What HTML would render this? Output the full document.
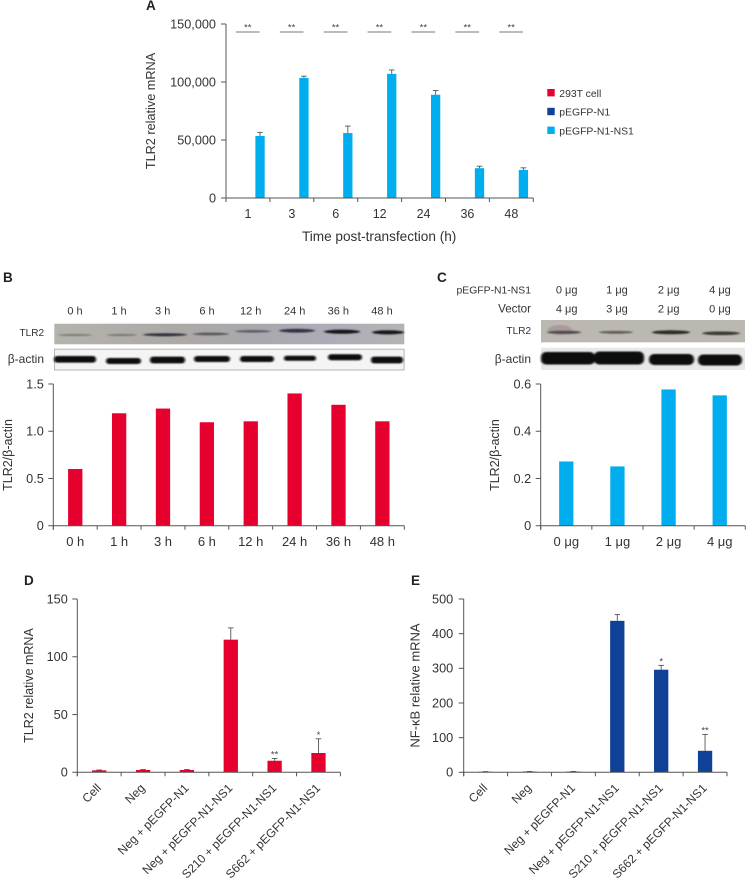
<!DOCTYPE html>
<html lang="en">
<head>
<meta charset="utf-8">
<title>TLR2 and NF-κB expression figure</title>
<style>
html,body{margin:0;padding:0;background:#fff;}
body{width:747px;height:882px;overflow:hidden;}
svg{display:block;font-family:"Liberation Sans",sans-serif;fill:#333;}
.panel-letter{font-weight:bold;font-size:13.5px;fill:#222;}
.blot-label{font-size:11px;fill:#333;}
.legend-text{font-size:10.4px;fill:#333;}
</style>
</head>
<body>
<svg id="fig" xmlns="http://www.w3.org/2000/svg" width="747" height="882" viewBox="0 0 747 882">
<defs>
<filter id="b1" x="-30%" y="-200%" width="160%" height="500%"><feGaussianBlur stdDeviation="1.1 .7"/></filter>
<filter id="b2" x="-30%" y="-100%" width="160%" height="300%"><feGaussianBlur stdDeviation="1 .7"/></filter>
<linearGradient id="bgB" x1="0" x2="1" y1="0" y2="0">
<stop offset="0" stop-color="#b5b3ad"/><stop offset=".35" stop-color="#aca9a6"/><stop offset=".6" stop-color="#aaa8ae"/><stop offset=".8" stop-color="#aeadb8"/><stop offset="1" stop-color="#b4b3b4"/>
</linearGradient>
</defs>

<text class="panel-letter" x="146" y="10">A</text>
<text class="panel-letter" x="3" y="282">B</text>
<text class="panel-letter" x="437" y="282">C</text>
<text class="panel-letter" x="24" y="585">D</text>
<text class="panel-letter" x="411" y="585">E</text>

<g>
<rect x="547.3" y="89" width="7.4" height="7.4" fill="#e6002e"/>
<text class="legend-text" x="559.3" y="96.8">293T cell</text>
<rect x="547.3" y="107.8" width="7.4" height="7.4" fill="#0f4196"/>
<text class="legend-text" x="559.3" y="115.6">pEGFP-N1</text>
<rect x="547.3" y="126.6" width="7.4" height="7.4" fill="#00aeef"/>
<text class="legend-text" x="559.3" y="134.4">pEGFP-N1-NS1</text>
</g>

<g>
<g class="blot-label" text-anchor="middle">
<text x="75" y="314.3">0 h</text><text x="119" y="314.3">1 h</text><text x="162.7" y="314.3">3 h</text><text x="207" y="314.3">6 h</text><text x="250.7" y="314.3">12 h</text><text x="294.7" y="314.3">24 h</text><text x="338.3" y="314.3">36 h</text><text x="382" y="314.3">48 h</text>
</g>
<text x="44" y="336" text-anchor="end" font-size="10">TLR2</text>
<text x="44" y="363" text-anchor="end" font-size="12">β-actin</text>
<rect x="54.3" y="323.7" width="350" height="20.6" fill="url(#bgB)"/>
<g filter="url(#b1)">
<ellipse cx="75" cy="335" rx="17" ry="1" fill="#7a7876"/>
<ellipse cx="122" cy="335" rx="15" ry="1" fill="#767472"/>
<ellipse cx="165" cy="334.7" rx="22" ry="1.5" fill="#2d2d3a"/>
<ellipse cx="211" cy="334" rx="18" ry="1.3" fill="#555"/>
<ellipse cx="253" cy="331.3" rx="18" ry="1.3" fill="#5c5c66"/>
<ellipse cx="297" cy="330.7" rx="18" ry="1.9" fill="#303048"/>
<ellipse cx="342" cy="331.7" rx="18" ry="2.1" fill="#121216"/>
<ellipse cx="388" cy="332.3" rx="16" ry="2.1" fill="#15151a"/>
</g>
<rect x="54.5" y="349.2" width="349.6" height="20.8" fill="#f4f4f4" stroke="#b5b5b5" stroke-width="1"/>
<g filter="url(#b2)" fill="#0a0a0a">
<rect x="54" y="356" width="42" height="6.6" rx="3"/>
<rect x="106" y="358" width="35" height="6" rx="3"/>
<rect x="150" y="356.6" width="35" height="6.8" rx="3"/>
<rect x="194" y="356" width="36" height="6" rx="3"/>
<rect x="240" y="356" width="34" height="6" rx="3"/>
<rect x="284" y="355.8" width="32" height="5" rx="2.5"/>
<rect x="328" y="354.2" width="34" height="6" rx="3"/>
<rect x="371" y="356.6" width="32" height="6.8" rx="3"/>
</g>
</g>

<g>
<text x="531" y="293.3" text-anchor="end" font-size="10.4">pEGFP-N1-NS1</text>
<text x="531" y="312.3" text-anchor="end" font-size="11.6">Vector</text>
<g class="blot-label" text-anchor="middle">
<text x="566.7" y="293.3">0 μg</text><text x="617" y="293.3">1 μg</text><text x="668.7" y="293.3">2 μg</text><text x="720" y="293.3">4 μg</text>
</g>
<g class="blot-label" text-anchor="middle">
<text x="566.7" y="312.3">4 μg</text><text x="617" y="312.3">3 μg</text><text x="668.7" y="312.3">2 μg</text><text x="720" y="312.3">0 μg</text>
</g>
<text x="531" y="334" text-anchor="end" font-size="10">TLR2</text>
<text x="531" y="363" text-anchor="end" font-size="12">β-actin</text>
<rect x="541" y="320" width="204" height="22.3" fill="#bbb8b1"/>
<g filter="url(#b1)">
<ellipse cx="560" cy="330" rx="12" ry="5" fill="#a89a9e"/>
<ellipse cx="564" cy="332.3" rx="17" ry="1.7" fill="#4f4a48"/>
<ellipse cx="616" cy="332.3" rx="17" ry="1.4" fill="#5f5c52"/>
<ellipse cx="671" cy="332.3" rx="19" ry="2" fill="#2e2c28"/>
<ellipse cx="721" cy="333.3" rx="19" ry="1.8" fill="#3a3835"/>
</g>
<rect x="541" y="347.7" width="204" height="22.3" fill="#e8e8e8"/>
<g filter="url(#b2)" fill="#080808">
<rect x="541" y="352" width="54" height="12.5" rx="5"/>
<rect x="594" y="351.5" width="50" height="13" rx="5"/>
<rect x="649" y="354" width="45" height="11" rx="5"/>
<rect x="698" y="354.5" width="44" height="11" rx="5"/>
</g>
</g>
</svg>
<script>
// Panel A data
const hoursA = ['1','3','6','12','24','36','48'];
const cellA = [0,0,0,0,0,0,0];
const vectorA = [0,0,0,0,0,0,0];
const ns1A = [53500,103500,56000,107000,89000,25700,24200];
const ns1ErrA = [3100,1500,6000,3400,3700,1700,1800];
const sigA = ['**','**','**','**','**','**','**'];
const yTicksA = [0,50000,100000,150000];
// Panel B data
const hoursB = ['0 h','1 h','3 h','6 h','12 h','24 h','36 h','48 h'];
const ratioB = [0.6,1.19,1.24,1.095,1.105,1.4,1.28,1.105];
const yTicksB = [0,0.5,1.0,1.5];
// Panel C data
const dosesC = ['0 μg','1 μg','2 μg','4 μg'];
const ratioC = [0.272,0.251,0.577,0.552];
const yTicksC = [0,0.2,0.4,0.6];
// Panels D and E data
const groupsDE = ['Cell','Neg','Neg + pEGFP-N1','Neg + pEGFP-N1-NS1','S210 + pEGFP-N1-NS1','S662 + pEGFP-N1-NS1'];
const tlr2D = [1.7,2,2,114.8,10,16.7];
const tlr2ErrD = [0.3,0.4,0.4,10.2,2,12.3];
const starsD = ['','','','','**','*'];
const yTicksD = [0,50,100,150];
const nfkbE = [1.5,2,2,437,296,62];
const nfkbErrE = [0.5,0.5,0.5,18,12.5,47];
const starsE = ['','','','','*','**'];
const yTicksE = [0,100,200,300,400,500];

const NS = 'http://www.w3.org/2000/svg';
const fig = document.getElementById('fig');
const RED = '#e6002e', BLUE = '#0f4196', CYAN = '#00aeef', AXIS = '#555', INK = '#333';

function mk(parent, tag, attrs, txt) {
  const e = document.createElementNS(NS, tag);
  for (const k in attrs) e.setAttribute(k, attrs[k]);
  if (txt !== undefined) e.textContent = txt;
  parent.appendChild(e);
  return e;
}

function drawPanel(p) {
  const g = mk(fig, 'g', {});
  
  
  const n = p.cats.length;
  const step = (p.x1 - p.x0) / n;
  const yS = v => p.y0 + (p.yT - p.y0) * v / p.yMax;
  const xS = (i, f) => p.x0 + (i + f) * step;

  // bars
  p.series.forEach(s => {
    s.values.forEach((v, i) => {
      const cx = xS(i, s.frac);
      const r = mk(g, 'rect', {x: cx - p.barW / 2, y: yS(v), width: p.barW, height: p.y0 - yS(v), fill: s.color});
      
      
      if (s.errs) {
        const top = yS(v + s.errs[i]);
        const stem = mk(g, 'line', {x1: cx, x2: cx, y1: yS(v), y2: top, stroke: '#555', 'stroke-width': 0.9});
        
        
        const cap = mk(g, 'line', {x1: cx - 2.8, x2: cx + 2.8, y1: top, y2: top, stroke: '#555', 'stroke-width': 0.9});
        
        
      }
      if (s.stars && s.stars[i]) {
        const st = mk(g, 'text', {x: cx, y: yS(v + s.errs[i]) - 1, 'text-anchor': 'middle', 'font-size': 9.5, fill: '#444'}, s.stars[i]);
        
        
      }
    });
  });

  // axes
  const ya = mk(g, 'line', {x1: p.x0, x2: p.x0, y1: p.yT, y2: p.y0 + 4, stroke: AXIS, 'stroke-width': 1});
  
  
  const xa = mk(g, 'line', {x1: p.x0, x2: p.x1, y1: p.y0, y2: p.y0, stroke: AXIS, 'stroke-width': 1});
  
  

  p.yTicks.forEach(t => {
    const y = yS(t);
    const tk = mk(g, 'line', {x1: p.x0 - 5, x2: p.x0, y1: y, y2: y, stroke: AXIS, 'stroke-width': 1});
    
    
    const lb = mk(g, 'text', {x: p.x0 - p.yLabelGap, y: y + 4.4, 'text-anchor': 'end', 'font-size': p.tickFont, fill: INK}, p.yFmt(t));
    
    
  });

  for (let i = 0; i <= n; i++) {
    const x = xS(i, 0);
    const tk = mk(g, 'line', {x1: x, x2: x, y1: p.y0, y2: p.y0 + 4, stroke: AXIS, 'stroke-width': 1});
    
    
  }

  p.cats.forEach((c, i) => {
    const x = xS(i, 0.5);
    let lb;
    if (p.rotate) {
      const ax = x + 2.5, ay = p.y0 + 16.5;
      lb = mk(g, 'text', {x: ax, y: ay, 'text-anchor': 'end', 'font-size': p.catFont, fill: INK, transform: 'rotate(-45 ' + ax + ' ' + ay + ')'}, c);
    } else {
      lb = mk(g, 'text', {x: x, y: p.catY, 'text-anchor': 'middle', 'font-size': p.catFont, fill: INK}, c);
    }
    
    
  });

  const yt = mk(g, 'text', {x: p.yTitleX, y: p.yTitleY, 'text-anchor': 'middle', 'font-size': p.titleFont, fill: INK, transform: 'rotate(-90 ' + p.yTitleX + ' ' + p.yTitleY + ')'}, p.yTitle);
  
  

  if (p.xTitle) {
    const xt = mk(g, 'text', {x: (p.x0 + p.x1) / 2 - 0.5, y: p.xTitleY, 'text-anchor': 'middle', 'font-size': 13.6, fill: INK}, p.xTitle);
    
    
  }

  if (p.sig) {
    p.sig.forEach((s, i) => {
      const a = xS(i, 0.225), b = xS(i, 0.765), y = p.sigY;
      const l = mk(g, 'line', {x1: a, x2: b, y1: y, y2: y, stroke: '#777', 'stroke-width': 1});
      
      
      const t = mk(g, 'text', {x: (a + b) / 2, y: y - 1.5, 'text-anchor': 'middle', 'font-size': 9.5, fill: '#444'}, s);
      
      
    });
  }
}

const comma = v => v.toLocaleString('en-US');
const oneDec = v => v === 0 ? '0' : v.toFixed(1);
const plain = v => String(v);

drawPanel({id:'panel-a', cats:hoursA, x0:226, x1:533.3, y0:198, yT:24, yMax:150000, barW:9.3,
  series:[
    {key:'293t', values:cellA, frac:0.225, color:RED},
    {key:'pegfp-n1', values:vectorA, frac:0.5, color:BLUE},
    {key:'pegfp-n1-ns1', values:ns1A, frac:0.775, color:CYAN, errs:ns1ErrA}
  ],
  yTicks:yTicksA, yFmt:comma, yLabelGap:10, tickFont:12.7, catFont:12.5, catY:218, titleFont:12.7,
  yTitle:'TLR2 relative mRNA', yTitleX:155, yTitleY:111, xTitle:'Time post-transfection (h)', xTitleY:241,
  sig:sigA, sigY:32});

drawPanel({id:'panel-b', cats:hoursB, x0:53.3, x1:404.3, y0:525.7, yT:384, yMax:1.5, barW:14.3,
  series:[{key:'293t', values:ratioB, frac:0.5, color:RED}],
  yTicks:yTicksB, yFmt:oneDec, yLabelGap:9.5, tickFont:12.7, catFont:13, catY:546, titleFont:12.5,
  yTitle:'TLR2/β-actin', yTitleX:12, yTitleY:455});

drawPanel({id:'panel-c', cats:dosesC, x0:540.7, x1:745.3, y0:525.7, yT:384, yMax:0.6, barW:14.3,
  series:[{key:'pegfp-n1-ns1', values:ratioC, frac:0.5, color:CYAN}],
  yTicks:yTicksC, yFmt:oneDec, yLabelGap:9.5, tickFont:12.7, catFont:13, catY:546, titleFont:12.5,
  yTitle:'TLR2/β-actin', yTitleX:499, yTitleY:455});

drawPanel({id:'panel-d', cats:groupsDE, x0:77.3, x1:340.4, y0:772.3, yT:599, yMax:150, barW:14.3,
  series:[{key:'tlr2', values:tlr2D, frac:0.5, color:RED, errs:tlr2ErrD, stars:starsD}],
  yTicks:yTicksD, yFmt:plain, yLabelGap:9.5, tickFont:12.7, catFont:12, rotate:true, titleFont:12.5,
  yTitle:'TLR2 relative mRNA', yTitleX:33, yTitleY:685.5});

drawPanel({id:'panel-e', cats:groupsDE, x0:463.7, x1:727, y0:772.3, yT:599, yMax:500, barW:14.3,
  series:[{key:'nfkb', values:nfkbE, frac:0.5, color:BLUE, errs:nfkbErrE, stars:starsE}],
  yTicks:yTicksE, yFmt:plain, yLabelGap:10.5, tickFont:12.7, catFont:12, rotate:true, titleFont:13,
  yTitle:'NF-κB relative mRNA', yTitleX:419.3, yTitleY:685.5});
</script>
</body>
</html>
